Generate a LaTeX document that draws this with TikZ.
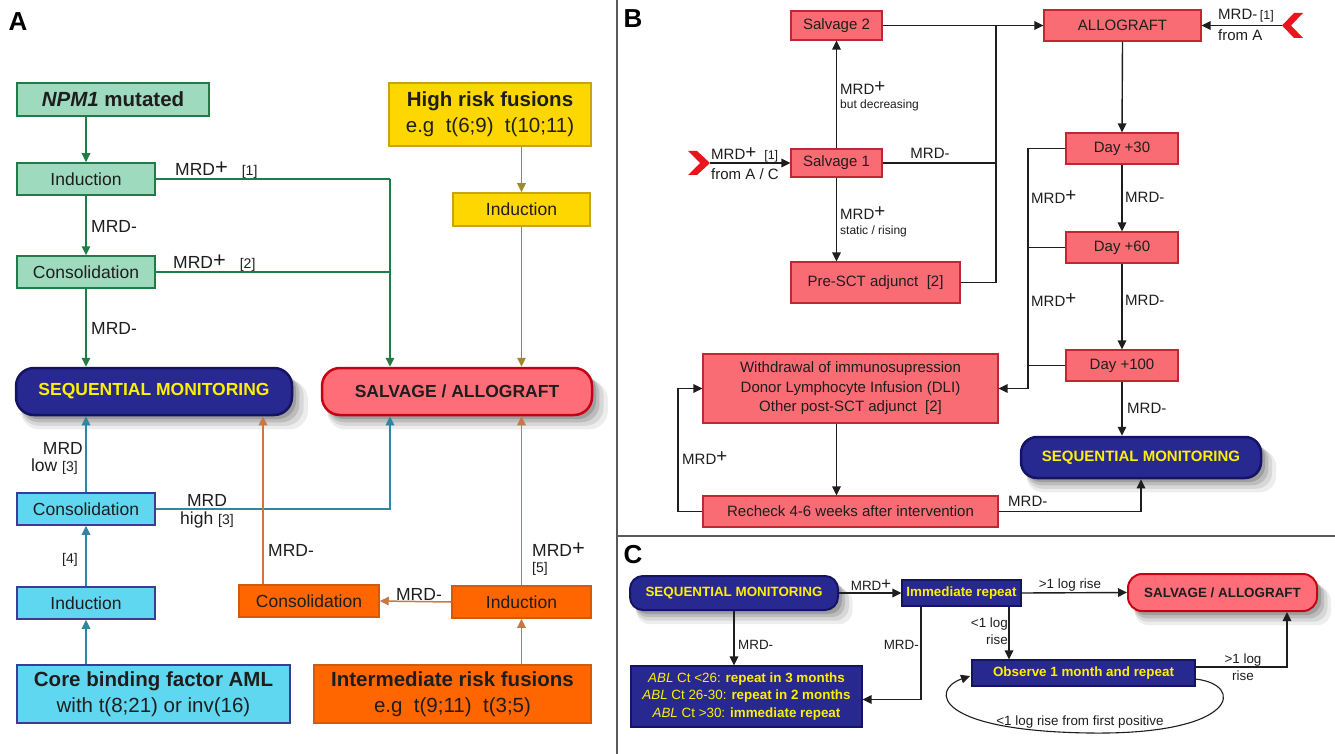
\documentclass[tikz,border=0pt]{standalone}
\usepackage{fontspec}
\setmainfont{Liberation Sans}
\usetikzlibrary{arrows.meta,shadows,calc}
\definecolor{grF}{RGB}{158,219,190}
\definecolor{grD}{RGB}{30,125,70}
\definecolor{yeF}{RGB}{255,215,0}
\definecolor{yeD}{RGB}{200,165,20}
\definecolor{yeA}{RGB}{160,136,48}
\definecolor{cyF}{RGB}{96,215,240}
\definecolor{cyD}{RGB}{60,60,150}
\definecolor{cyA}{RGB}{46,134,160}
\definecolor{orF}{RGB}{255,102,0}
\definecolor{orD}{RGB}{210,90,10}
\definecolor{orA}{RGB}{200,120,70}
\definecolor{nvF}{RGB}{40,40,145}
\definecolor{nvD}{RGB}{20,20,100}
\definecolor{ylT}{RGB}{255,240,0}
\definecolor{pkF}{RGB}{250,108,116}
\definecolor{pkD}{RGB}{190,40,50}
\definecolor{rdF}{RGB}{255,110,120}
\definecolor{rdD}{RGB}{200,0,20}
\definecolor{chev}{RGB}{235,20,30}
\definecolor{txt}{RGB}{30,30,30}
\definecolor{divg}{RGB}{90,90,90}
\newcommand\fsA{\fontsize{17.5}{20}\selectfont}
\newcommand\fsT{\fontsize{20.5}{25}\selectfont}
\newcommand\fsB{\fontsize{15}{19}\selectfont}
\newcommand\fsBs{\fontsize{12}{14}\selectfont}
\newcommand\fsC{\fontsize{13.4}{17.5}\selectfont}
\newcommand\fsL{\fontsize{26}{28}\selectfont}
\newcommand\fsR{\fontsize{14}{16}\selectfont}
\newcommand\fsRb{\fontsize{12.5}{14}\selectfont}
\newcommand\pl{\raisebox{1.2pt}{\scalebox{1.25}{+}}}
\tikzset{
  sz/.style 2 args={minimum width=#1pt, minimum height=#2pt},
  bx/.style={rectangle, inner sep=0pt, align=center, text=txt},
  gbox/.style={bx, fill=grF, draw=grD, line width=1.5pt, font=\fsA},
  ybox/.style={bx, fill=yeF, draw=yeD, line width=1.5pt, font=\fsA},
  cbox/.style={bx, fill=cyF, draw=cyD, line width=1.5pt, font=\fsA},
  obox/.style={bx, fill=orF, draw=orD, line width=1.5pt, font=\fsA},
  pbox/.style={bx, fill=pkF, draw=pkD, line width=1.2pt, font=\fsB},
  nbox/.style={bx, fill=nvF, draw=nvD, line width=1.2pt, text=ylT, font=\fsC\bfseries},
  shad/.style={general shadow={fill=black,opacity=0.07,shadow xshift=10pt,shadow yshift=-13pt,shadow scale=1.04},
               general shadow={fill=black,opacity=0.09,shadow xshift=8pt,shadow yshift=-10pt,shadow scale=1.025},
               general shadow={fill=black,opacity=0.12,shadow xshift=6pt,shadow yshift=-7pt,shadow scale=1.01},
               general shadow={fill=black,opacity=0.15,shadow xshift=4pt,shadow yshift=-4pt}},
  seqbox/.style={bx, shad, rounded corners=18pt, fill=nvF, draw=nvD, line width=2.5pt, text=ylT, font=\fsA\bfseries},
  salbox/.style={bx, shad, rounded corners=18pt, fill=rdF, draw=rdD, line width=2.5pt, text=txt, font=\fsA\bfseries},
  tip/.style={-{Triangle[length=9pt,width=8.5pt]}},
  garr/.style={draw=grD, line width=1.5pt},
  yarr/.style={draw=yeA, line width=1.5pt},
  carr/.style={draw=cyA, line width=1.5pt},
  oarr/.style={draw=orA, line width=1.5pt},
  karr/.style={draw=txt, line width=1.4pt},
  lab/.style={inner sep=0pt, text=txt, font=\fsA},
  labB/.style={inner sep=0pt, text=txt, font=\fsB},
  labC/.style={inner sep=0pt, text=txt, font=\fsC, align=center},
}
\begin{document}
\begin{tikzpicture}[x=1pt,y=-1pt]
\useasboundingbox (0,0) rectangle (1335,754);
\fill[white] (0,0) rectangle (1335,754);
% dividers
\draw[divg, line width=1.3pt] (617,0) -- (617,754);
\draw[divg, line width=1.3pt] (617,536) -- (1335,536);
% panel letters
\node[font=\fsL\bfseries, inner sep=0pt] (lA) at (18,22) {A};
\node[font=\fsL\bfseries, inner sep=0pt] (lB) at (633,19) {B};
\node[font=\fsL\bfseries, inner sep=0pt] (lC) at (633,555) {C};

% ================= PANEL A =================
\node[gbox, sz={192}{33}, font=\fsT\bfseries] (npm) at (113,99.5) {\textit{NPM1} mutated};
\node[gbox, sz={138}{32}] (indG) at (86,179) {Induction};
\node[gbox, sz={138}{32}] (conG) at (86,272) {Consolidation};
\node[ybox, sz={202}{63}, font=\fsT] (hrf) at (490,114.5) {\textbf{High risk fusions}\\[1pt]e.g\ \ t(6;9)\ \ t(10;11)};
\node[ybox, sz={137}{33}] (indY) at (521.5,209.5) {Induction};
\node[seqbox, sz={276}{47}] (seqA) at (154,391.5) {SEQUENTIAL MONITORING};
\node[salbox, sz={270}{47}] (salA) at (457,391.5) {SALVAGE / ALLOGRAFT};
\node[cbox, sz={138}{32}] (conC) at (86,509) {Consolidation};
\node[cbox, sz={138}{32}] (indC) at (86,603) {Induction};
\node[cbox, sz={273}{58}, font=\fsT] (core) at (153.5,694) {\textbf{Core binding factor AML}\\[1pt]with t(8;21) or inv(16)};
\node[obox, sz={277}{58}, font=\fsT] (inter) at (452.5,694) {\textbf{Intermediate risk fusions}\\[1pt]e.g\ \ t(9;11)\ \ t(3;5)};
\node[obox, sz={140}{32}] (conO) at (309,601) {Consolidation};
\node[obox, sz={139}{32}] (indO) at (521.5,602) {Induction};

% green connectors
\draw[garr, tip] (indG.north |- npm.south) -- (indG.north);
\draw[garr, tip] (indG.south) -- (conG.north);
\draw[garr, tip] (conG.south) -- (conG.south |- seqA.north);
\coordinate (gx) at (390,0);
\draw[garr] (indG.east) -- (indG.east -| gx);
\draw[garr] (conG.east) -- (conG.east -| gx);
\draw[garr, tip] (indG.east -| gx) -- (gx |- salA.north);
\node[lab, anchor=west] (l1) at (175,170) {MRD\pl\hspace{14pt}{\fsR [1]}};
\node[lab, anchor=west] (l2) at (173,263) {MRD\pl\hspace{14pt}{\fsR [2]}};
\node[lab, anchor=west] (l3) at (91,226) {MRD-};
\node[lab, anchor=west] (l4) at (91,328) {MRD-};
% yellow connectors
\draw[yarr, tip] (indY.north |- hrf.south) -- (indY.north);
\draw[yarr, tip] (indY.south) -- (indY.south |- salA.north);
% cyan connectors
\draw[carr, tip] (indC.south |- core.north) -- (indC.south);
\draw[carr, tip] (indC.north) -- (conC.south);
\draw[carr, tip] (conC.north) -- (conC.north |- seqA.south);
\draw[carr, tip] (conC.east) -| (gx |- salA.south);
\node[lab, anchor=east] (l5) at (83,448) {MRD};
\node[lab, anchor=east] (l6) at (78,467) {low {\fsR [3]}};
\node[lab] (l7) at (207,500) {MRD};
\node[lab] (l8) at (207,520) {high {\fsR [3]}};
\node[lab, font=\fsR] (l9) at (70,560) {[4]};
% orange connectors
\draw[oarr, tip] (indO.south |- inter.north) -- (indO.south);
\draw[oarr, tip] (indO.north) -- (indO.north |- salA.south);
\draw[oarr, tip] (indO.west) -- (conO.east);
\draw[oarr, tip] ([xshift=-46pt]conO.north) -- ([xshift=-46pt]conO.north |- seqA.south);
\node[lab, anchor=west] (l10) at (268,550) {MRD-};
\node[lab] (l11) at (419,594) {MRD-};
\node[lab, anchor=west] (l12) at (532,550) {MRD\pl};
\node[lab, anchor=west, font=\fsR] (l13) at (532,569) {[5]};

% ================= PANEL B =================
\node[pbox, sz={91}{29}] (sal2) at (836.5,25.5) {Salvage 2};
\node[pbox, sz={91}{28}] (sal1) at (836.5,163) {Salvage 1};
\node[pbox, sz={169}{41}] (pre) at (875.5,282.5) {Pre-SCT adjunct\ \ [2]};
\node[pbox, sz={157}{31}] (allo) at (1122.5,25.5) {ALLOGRAFT};
\node[pbox, sz={112}{31}] (d30) at (1122,148.5) {Day +30};
\node[pbox, sz={112}{31}] (d60) at (1122,247.5) {Day +60};
\node[pbox, sz={112}{31}] (d100) at (1122,365.5) {Day +100};
\node[pbox, sz={295}{69}, font=\fontsize{15}{19.5}\selectfont] (wd) at (850.5,388.5) {Withdrawal of immunosupression\\Donor Lymphocyte Infusion (DLI)\\Other post-SCT adjunct\ \ [2]};
\node[pbox, sz={295}{31}] (rc) at (850.5,511.5) {Recheck 4-6 weeks after intervention};
\node[seqbox, sz={240}{41}, font=\fsB\bfseries, rounded corners=16pt] (seqB) at (1141,457.5) {SEQUENTIAL MONITORING};

\fill[chev] (688,151) -- (697,151) -- (710,163) -- (697,175) -- (688,175) -- (700,163) -- cycle;
\coordinate (chL) at (710,163);
\fill[chev] (1303,13) -- (1294,13) -- (1282,25.5) -- (1294,38) -- (1303,38) -- (1291,25.5) -- cycle;
\coordinate (chR) at (1282,25.5);
\coordinate (jx) at (996,25.5);
\coordinate (kx) at (1028,0);
\coordinate (mx) at (678,0);

\draw[karr, tip] (chL) -- (sal1.west);
\draw[karr, tip] (chR) -- (allo.east);
\draw[karr, tip] (sal1.north) -- (sal2.south);
\draw[karr, tip] (sal1.south) -- (sal1.south |- pre.north);
\draw[karr, tip] (sal2.east) -- (allo.west);
\draw[karr] (sal1.east) -| (jx);
\draw[karr] (pre.east) -| (jx);
\draw[karr, tip] (allo.south) -- (d30.north);
\draw[karr, tip] (d30.south) -- (d60.north);
\draw[karr, tip] (d60.south) -- (d100.north);
\draw[karr] (d30.west) -- (d30.west -| kx);
\draw[karr] (d60.west) -- (d60.west -| kx);
\draw[karr] (d100.west) -- (d100.west -| kx);
\draw[karr, tip] (d30.west -| kx) |- (wd.east);
\draw[karr, tip] (d100.south) -- (d100.south |- seqB.north);
\draw[karr, tip] (wd.south -| sal1.south) -- (rc.north -| sal1.south);
\draw[karr, tip] (rc.east) -| (seqB.south);
\draw[karr, tip] (rc.west) -- (rc.west -| mx) |- (wd.west);

\node[labB, anchor=west] (b1) at (711,155) {MRD\pl\hspace{8pt}{\fsRb [1]}};
\node[labB, anchor=west] (b2) at (711,174) {from A / C};
\node[labB] (b3) at (930,153) {MRD-};
\node[labB, anchor=west] (b4) at (840,88) {MRD\pl};
\node[labB, anchor=west, font=\fsBs] (b5) at (840,105) {but decreasing};
\node[labB, anchor=west] (b6) at (840,213) {MRD\pl};
\node[labB, anchor=west, font=\fsBs] (b7) at (840,231) {static / rising};
\node[labB, anchor=west] (b8) at (1218,16) {MRD-\,{\fsRb [1]}};
\node[labB, anchor=west] (b9) at (1218,35) {from A};
\node[labB, anchor=west] (b10) at (1031,197) {MRD\pl};
\node[labB, anchor=west] (b11) at (1125,197) {MRD-};
\node[labB, anchor=west] (b12) at (1031,300) {MRD\pl};
\node[labB, anchor=west] (b13) at (1125,300) {MRD-};
\node[labB, anchor=west] (b14) at (1127,408) {MRD-};
\node[labB, anchor=west] (b15) at (1008,501) {MRD-};
\node[labB, anchor=west] (b16) at (682,458) {MRD\pl};

% ================= PANEL C =================
\node[seqbox, sz={208}{34}, font=\fsC\bfseries, rounded corners=13pt, line width=2pt] (seqC) at (734,593) {SEQUENTIAL MONITORING};
\node[nbox, sz={119}{26}] (imm) at (961.5,593) {Immediate repeat};
\node[salbox, sz={189}{37}, font=\fsC\bfseries, rounded corners=14pt, line width=2pt] (salC) at (1222.5,592.5) {SALVAGE / ALLOGRAFT};
\node[nbox, sz={231}{61}, font=\fontsize{13.4}{17.5}\selectfont] (abl) at (746.5,696.5) {\textit{ABL} Ct <26: \textbf{repeat in 3 months}\\\textit{ABL} Ct 26-30: \textbf{repeat in 2 months}\\\textit{ABL} Ct >30: \textbf{immediate repeat}};
\node[nbox, sz={223}{26}] (obs) at (1083.5,673) {Observe 1 month and repeat};

\draw[karr, tip] (seqC.east) -- (imm.west);
\draw[karr, tip] (imm.east) -- (salC.west);
\draw[karr, tip] (seqC.south) -- (seqC.south |- abl.north);
\draw[karr, tip] ([xshift=-40.5pt]imm.south) |- ([yshift=-3pt]abl.east);
\draw[karr, tip] ([xshift=47.5pt]imm.south) -- ([xshift=47.5pt]imm.south |- obs.north);
\draw[karr, tip] ([yshift=6pt]obs.east) -| ([xshift=64.5pt]salC.south);
\coordinate (lp1) at (1195,679);
\coordinate (lp2) at (970,676);
\draw[karr, line width=1.1pt, tip] (lp1) .. controls (1245,684) and (1240,735) .. (1090,733) .. controls (935,731) and (930,690) .. (lp2);

\node[labC] (c1) at (871,585) {MRD\pl};
\node[labC] (c2) at (1070,585) {>1 log rise};
\node[labC, anchor=west] (c3) at (738,645) {MRD-};
\node[labC, anchor=east] (c4) at (919,645) {MRD-};
\node[labC, anchor=east, align=right] (c5) at (1008,631) {<1 log\\rise};
\node[labC] (c6) at (1243,667) {>1 log\\rise};
\node[labC] (c7) at (1080,722) {<1 log rise from first positive};
\end{tikzpicture}
\end{document}
